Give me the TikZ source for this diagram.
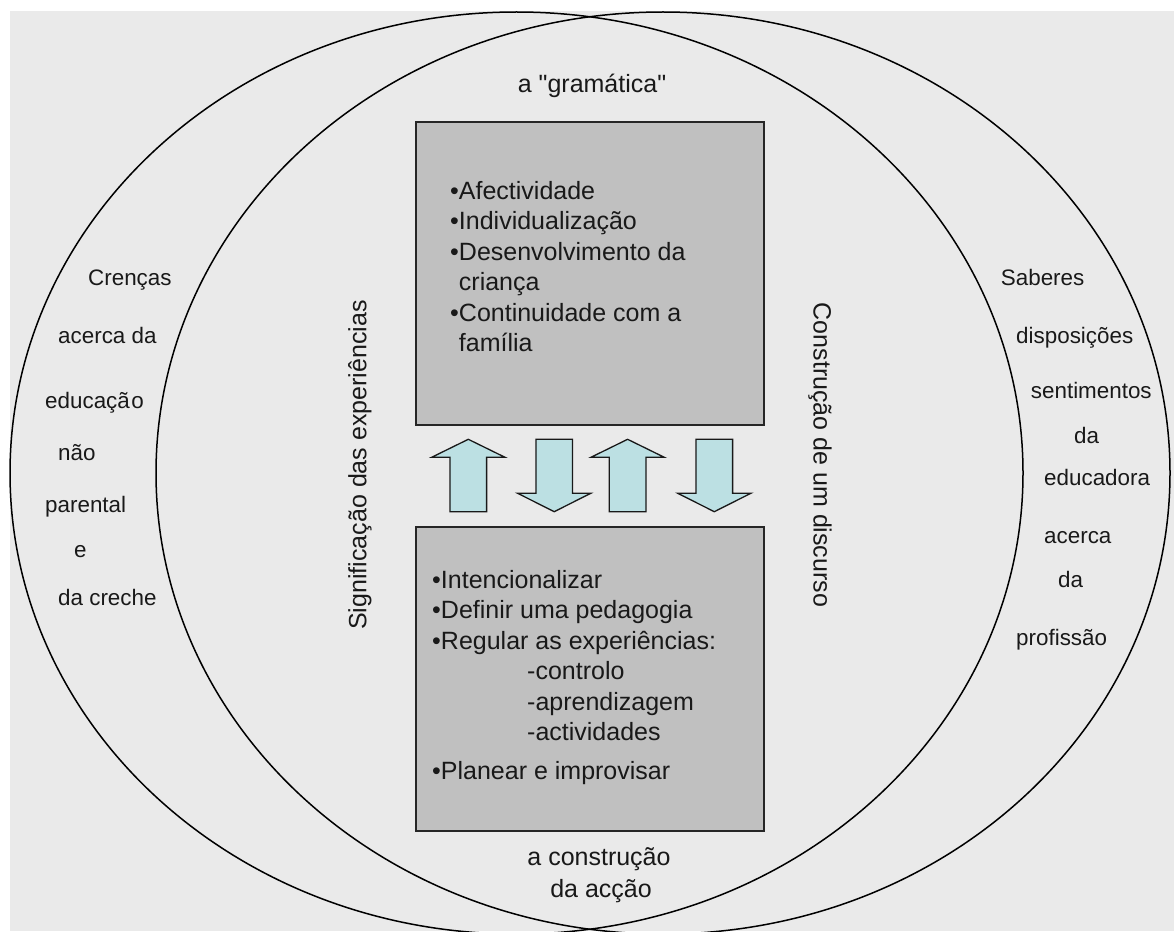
\documentclass[tikz,border=0pt]{standalone}
\usepackage{fontspec}
\setmainfont{Liberation Sans}
\definecolor{panelbg}{HTML}{EAEAEA}
\definecolor{boxgray}{HTML}{C0C0C0}
\definecolor{arrowblue}{HTML}{BCE0E3}
% straight double quote, placed as a glyph so the TeX mapping leaves it alone
\newcommand{\straightquote}{\XeTeXglyph\XeTeXcharglyph"22\relax}
\begin{document}
\begin{tikzpicture}[x=1pt,y=-1pt,
  ring/.style={draw=black,line width=1.5pt},
  graybox/.style={draw=black!85,line width=1.3pt,fill=boxgray,inner sep=0pt},
  blockarrow/.style={draw=black!90,line width=1.3pt,fill=arrowblue,line join=miter},
  big/.style={font=\fontsize{25}{30}\selectfont,inner sep=0pt,text=black!90},
  small/.style={font=\fontsize{22.4}{27}\selectfont,inner sep=0pt,text=black!90},
  line/.style={big,anchor=base west}]
  % page and background panel
  \useasboundingbox (0,0) rectangle (1174,931);
  \fill[white] (0,0) rectangle (1174,931);
  \fill[panelbg] (10,11) rectangle (1174,931);

  % the two overlapping ellipses
  \draw[ring] (516.5,473) ellipse [x radius=506.5pt, y radius=461pt];
  \draw[ring] (663,473) ellipse [x radius=507pt, y radius=461pt];

  % central boxes
  \node[graybox,minimum width=348pt,minimum height=303pt] (gram) at (590,273.5) {};
  \node[graybox,minimum width=348pt,minimum height=304pt] (acao) at (590,679) {};

  % block arrows between the boxes
  \foreach \cx in {468.3,627.6}{
    \draw[blockarrow] (\cx,439.3) -- (\cx+36.7,457.3) -- (\cx+18.3,457.3) -- (\cx+18.3,511.7)
      -- (\cx-18.3,511.7) -- (\cx-18.3,457.3) -- (\cx-36.7,457.3) -- cycle;
  }
  \foreach \cx in {554.2,714.3}{
    \draw[blockarrow] (\cx-18.3,439.3) -- (\cx+18.3,439.3) -- (\cx+18.3,493.3) -- (\cx+36.5,493.3)
      -- (\cx,511.7) -- (\cx-36.5,493.3) -- (\cx-18.3,493.3) -- cycle;
  }

  % headings above and below
  \node[big,anchor=base] (topttl) at (592,92.7) {a \straightquote gramática\straightquote};
  \node[big,anchor=base] (botttl1) at (599,865) {a construção};
  \node[big,anchor=base] (botttl2) at (601,897) {da acção};

  % upper box contents
  \node[line] (u1) at (450,199.3) {•Afectividade};
  \node[line] (u2) at (450,229.8) {•Individualização};
  \node[line] (u3) at (450,260.3) {•Desenvolvimento da};
  \node[line] (u4) at (450,290.8) {\phantom{•}criança};
  \node[line] (u5) at (450,321.3) {•Continuidade com a};
  \node[line] (u6) at (450,351.8) {\phantom{•}família};

  % lower box contents
  \node[line] (l1) at (432,588) {•Intencionalizar};
  \node[line] (l2) at (432,618.5) {•Definir uma pedagogia};
  \node[line] (l3) at (432,649) {•Regular as experiências:};
  \node[line] (l4) at (527,679.5) {-controlo};
  \node[line] (l5) at (527,710) {-aprendizagem};
  \node[line] (l6) at (527,740.5) {-actividades};
  \node[line] (l7) at (432,779) {•Planear e improvisar};

  % vertical captions beside the boxes
  \node[big,rotate=90] (signif) at (360,465) {Significação das experiências};
  \node[big,rotate=-90] (constr) at (820,455) {Construção de um discurso};

  % left column of words
  \node[small,anchor=base west] (c1) at (88,285) {Crenças};
  \node[small,anchor=base west] (c2) at (58,343) {acerca da};
  \node[small,anchor=base west] (c3) at (45,408) {educaçã\kern1.5pt o};
  \node[small,anchor=base west] (c4) at (58,460) {não};
  \node[small,anchor=base west] (c5) at (45,512) {parental};
  \node[small,anchor=base west] (c6) at (74,557) {e};
  \node[small,anchor=base west] (c7) at (58,605) {da creche};

  % right column of words
  \node[small,anchor=base west] (s1) at (1000.7,285) {Saberes};
  \node[small,anchor=base west] (s2) at (1016,343) {disposições};
  \node[small,anchor=base west] (s3) at (1030.7,398) {sentimentos};
  \node[small,anchor=base west] (s4) at (1074,443) {da};
  \node[small,anchor=base west] (s5) at (1044,485) {educadora};
  \node[small,anchor=base west] (s6) at (1044,543) {acerca};
  \node[small,anchor=base west] (s7) at (1058,587) {da};
  \node[small,anchor=base west] (s8) at (1016,645) {profissão};
\end{tikzpicture}
\end{document}
